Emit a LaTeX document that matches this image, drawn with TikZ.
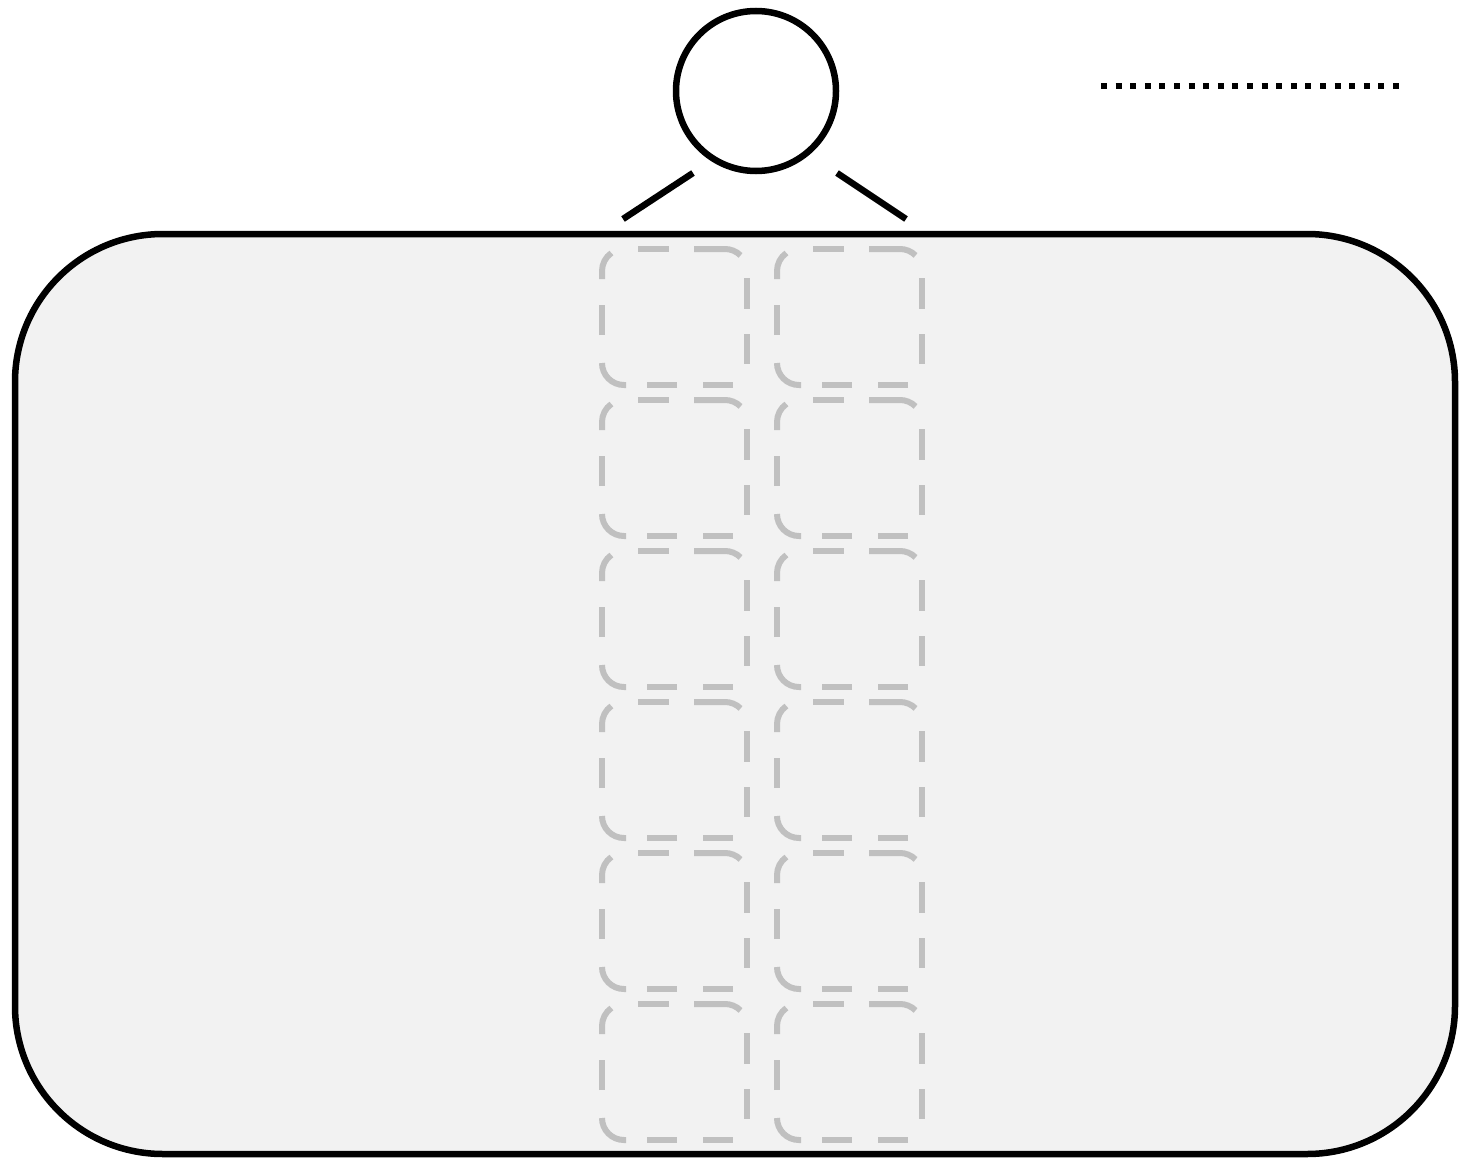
\documentclass[tikz,border=0pt]{standalone}
\usetikzlibrary{calc}
\definecolor{panelfill}{HTML}{F2F2F2}
\definecolor{cellgray}{HTML}{C0C0C0}
\tikzset{
  panel/.style={draw=black, line width=6.5pt, fill=panelfill, rounded corners=148pt},
  cellline/.style={draw=cellgray, line width=6pt},
  head/.style={circle, draw=black, line width=6.5pt, minimum size=160pt, inner sep=0pt},
  arm/.style={draw=black, line width=6.5pt},
  dotline/.style={draw=black, line width=6pt, dash pattern=on 6pt off 8.6pt},
  cellbox/.pic={
    \draw[cellline] (0,30) -- (0,22) arc[start angle=180,end angle=235,radius=22];
    \draw[cellline] (36,0) -- (67,0);
    \draw[cellline] (92,0) -- (123,0) arc[start angle=270,end angle=315,radius=22];
    \draw[cellline] (145,29) -- (145,60);
    \draw[cellline] (145,85) -- (145,115);
    \draw[cellline] (131,136) -- (101,136);
    \draw[cellline] (75,136) -- (45,136);
    \draw[cellline] (24,136) -- (22,136) arc[start angle=90,end angle=180,radius=22];
    \draw[cellline] (0,86) -- (0,56);
  }
}
\begin{document}
\begin{tikzpicture}[x=1pt,y=-1pt]
\useasboundingbox (0,0) rectangle (1460,1159);
\fill[white] (0,0) rectangle (1460,1159);
\draw[panel] (15,234) rectangle (1455,1154);
\foreach \r in {0,...,5} {
  \pic (a\r) at (602,{249+151*\r}) {cellbox};
  \pic (b\r) at (777,{249+151*\r}) {cellbox};
}
\node[head] (head) at (756,91) {};
\coordinate (la) at (693,173);
\coordinate (lb) at (623,219);
\coordinate (ra) at (837,173);
\coordinate (rb) at (906,219);
\draw[arm] (la) -- (lb);
\draw[arm] (ra) -- (rb);
\coordinate (d1) at (1101,86);
\coordinate (d2) at (1399,86);
\draw[dotline] (d1) -- (d2);
\end{tikzpicture}
\end{document}
